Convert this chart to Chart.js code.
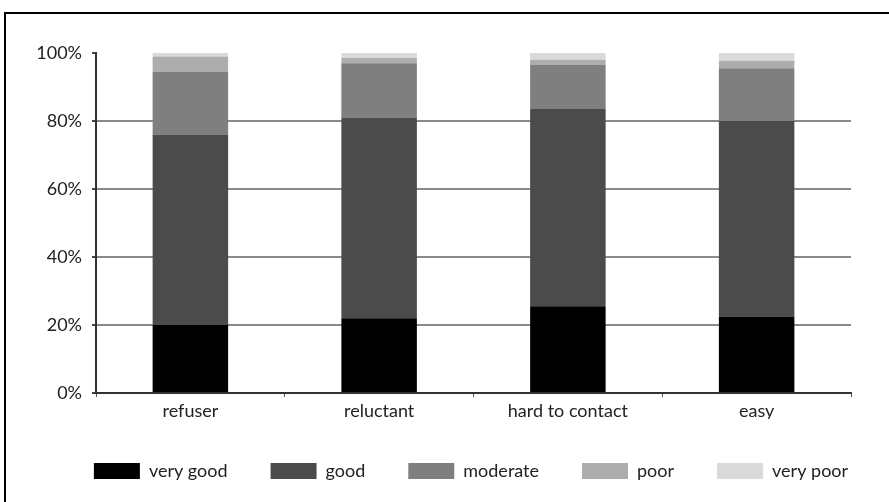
<!DOCTYPE html>
<html>
<head>
<meta charset="utf-8">
<script src="https://cdn.jsdelivr.net/npm/chart.js@4"></script>
<style>
  body { margin: 0; background: #fff; overflow: hidden; }
  #frame { position: absolute; left: 4px; top: 12px; width: 885px; height: 490px;
           border-top: 2px solid #000; border-left: 2px solid #000; }
  #wrap { position: absolute; left: 0; top: 0; width: 889px; height: 502px; }
</style>
</head>
<body>
<div id="frame"></div>
<div id="wrap"><canvas id="chart"></canvas></div>
<script>
// categories and series (percent of each group)
const categories = ['refuser', 'reluctant', 'hard to contact', 'easy'];
const veryGood = [20, 22, 25.5, 22.5];
const good = [56, 59, 58, 57.5];
const moderate = [18.5, 16, 13, 15.5];
const poor = [4.5, 1.5, 1.5, 2.2];
const veryPoor = [1, 1.5, 2, 2.3];
const yTicks = [0, 20, 40, 60, 80, 100];

const font = { family: 'Lato', size: 18 };

function series(label, data, color) {
      return {
            label: label,
            data: data,
            backgroundColor: color,
            borderWidth: 0,
            barPercentage: 0.4,
            categoryPercentage: 1
      };
}

const ctx = document.getElementById('chart').getContext('2d');

new Chart(ctx, {
      type: 'bar',
      data: {
            labels: categories,
            datasets: [
                  series('very good', veryGood, '#000000'),
                  series('good', good, '#4b4b4b'),
                  series('moderate', moderate, '#7f7f7f'),
                  series('poor', poor, '#adadad'),
                  series('very poor', veryPoor, '#dadada')
            ]
      },
      options: {
            responsive: true,
            maintainAspectRatio: false,
            animation: false,
            layout: { padding: { top: 53, bottom: 12, left: 35, right: -18 } },
            scales: {
                  x: {
                        stacked: true,
                        grid: { drawOnChartArea: false, tickLength: 4, color: '#555', lineWidth: 1 },
                        border: { color: '#333', width: 2 },
                        ticks: { color: '#222', font: font, padding: 3 },
                        afterFit: (scale) => { scale.height = 26; }
                  },
                  y: {
                        stacked: true,
                        min: 0,
                        max: 100,
                        afterBuildTicks: (scale) => { scale.ticks = yTicks.map(v => ({ value: v })); },
                        afterFit: (scale) => { scale.width = 61; },
                        grid: {
                              tickLength: 4,
                              lineWidth: 2,
                              tickColor: '#444',
                              color: (c) => (c.tick && c.tick.value === 100) ? 'rgba(0,0,0,0)' : '#8a8a8a'
                        },
                        border: { color: '#333', width: 2 },
                        ticks: { color: '#222', font: font, padding: 10, callback: (v) => v + '%' }
                  },
                  // empty right-hand scale, only reserves room to the right of the plot
                  yr: {
                        position: 'right',
                        grid: { display: false },
                        border: { display: false },
                        ticks: { display: false },
                        afterFit: (scale) => { scale.width = 56; }
                  }
            },
            plugins: {
                  legend: {
                        position: 'bottom',
                        align: 'center',
                        labels: {
                              boxWidth: 46,
                              boxHeight: 16,
                              padding: 43,
                              color: '#222',
                              font: font
                        }
                  },
                  tooltip: { enabled: false }
            }
      }
});
</script>
</body>
</html>
